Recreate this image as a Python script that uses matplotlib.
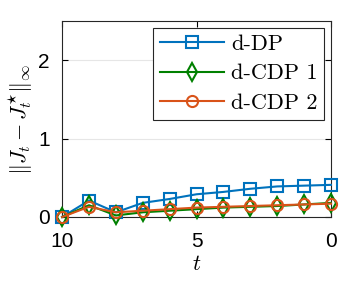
import numpy as np
import matplotlib
matplotlib.use("Agg")
from matplotlib import pyplot as plt
from matplotlib.font_manager import FontProperties

plt.rcParams['mathtext.fontset'] = 'cm'
plt.rcParams['font.family'] = ['Liberation Sans', 'DejaVu Sans']

# data
t = [10, 9, 8, 7, 6, 5, 4, 3, 2, 1, 0]
dp = [0.0, 0.21, 0.06, 0.18, 0.23, 0.29, 0.32, 0.36, 0.39, 0.40, 0.41]
cdp1 = [0.0, 0.15, 0.02, 0.06, 0.08, 0.10, 0.12, 0.13, 0.14, 0.16, 0.18]
cdp2 = [0.0, 0.13, 0.06, 0.08, 0.10, 0.12, 0.13, 0.14, 0.15, 0.16, 0.17]

fig = plt.figure(figsize=(3.59, 2.82), dpi=100)
ax = fig.add_axes([0.173, 0.2305, 0.749, 0.695])

kw = dict(lw=1.5, mfc='none', mew=1.5, clip_on=False, zorder=3)
ax.plot(t, dp, '-s', color='#0072BD', ms=8, label='d-DP', **kw)
ax.plot(t, cdp1, '-d', color='#008000', ms=9, label='d-CDP 1', **kw)
ax.plot(t, cdp2, '-o', color='#D95319', ms=8, label='d-CDP 2', **kw)

ax.set_xlim(10, 0)
ax.set_ylim(0, 2.5)
ax.set_xticks([10, 5, 0])
ax.set_yticks([0, 1, 2])
ax.tick_params(direction='in', top=True, right=True, labelsize=15, length=4)
ax.tick_params(axis='x', pad=11)
ax.tick_params(axis='y', pad=9)
ax.yaxis.grid(True, color='#e6e6e6', lw=0.8)
ax.set_axisbelow(True)
for s in ax.spines.values():
    s.set_color('#262626')

ax.set_xlabel(r'$t$', fontsize=16, labelpad=2)
ax.set_ylabel(r'$\Vert J_t - J_t^{\star}\Vert_\infty$', fontsize=16, labelpad=2)

leg = ax.legend(loc='upper right', prop=FontProperties(family='cmr10', size=16),
                fancybox=False, edgecolor='#262626', framealpha=1,
                borderpad=0.3, labelspacing=0.45, handlelength=2.9,
                handletextpad=0.3, borderaxespad=0.3)
leg.get_frame().set_linewidth(0.8)

fig.savefig('out.png', dpi=100)
